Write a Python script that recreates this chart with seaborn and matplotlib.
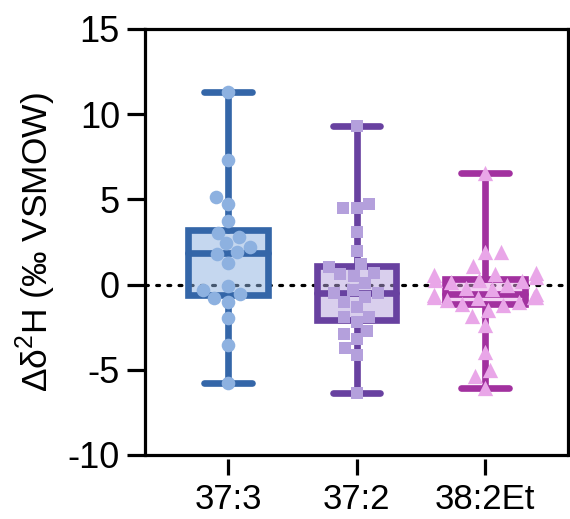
import matplotlib
matplotlib.use("Agg")
import matplotlib.pyplot as plt
import seaborn as sns
import pandas as pd
from matplotlib.colors import to_rgba

# ---- data ----
categories = ["37:3", "37:2", "38:2Et"]
vals_373 = [11.32, 7.31, 5.12, 4.71, 3.75, 3.05, 2.80, 2.42, 2.23, 1.90,
            1.80, 1.29, -0.08, -0.32, -0.57, -0.80, -1.00, -1.98, -3.54, -5.79]
vals_372 = [9.31, 4.71, 4.51, 4.48, 3.07, 1.99, 1.18, 1.02, 0.66, 0.60,
            0.52, 0.08, -0.32, -0.51, -0.51, -0.71, -1.04, -1.30, -1.92, -1.92,
            -2.21, -2.70, -2.92, -3.21, -3.70, -4.13, -6.34]
vals_382 = [6.57, 1.93, 1.93, 1.09, 0.66, 0.60, 0.55, 0.43, 0.29, 0.27,
            0.23, 0.17, -0.02, -0.22, -0.28, -0.55, -0.61, -0.70, -0.72, -0.75,
            -0.78, -0.90, -1.00, -1.12, -1.22, -1.49, -1.84, -2.37, -3.94, -5.01,
            -5.36, -6.05]
yticks = [-10, -5, 0, 5, 10, 15]
ylabel = "Δδ$^{\\mathregular{2}}$H (‰ VSMOW)"

edge_colors = ["#3466A8", "#6841A0", "#A2319F"]
point_colors = ["#8DB1E0", "#B4A0DC", "#E9A6E8"]
markers = ["o", "s", "^"]
marker_sizes = [9.8, 9.3, 11.0]

df = pd.DataFrame({
    "group": [categories[0]] * len(vals_373) + [categories[1]] * len(vals_372)
             + [categories[2]] * len(vals_382),
    "value": vals_373 + vals_372 + vals_382,
})

sns.set_style("ticks")
plt.rcParams["font.family"] = ["Liberation Sans", "DejaVu Sans"]
plt.rcParams["axes.unicode_minus"] = False
plt.rcParams["mathtext.fontset"] = "custom"
plt.rcParams["mathtext.rm"] = "Liberation Sans"
plt.rcParams["text.color"] = "black"
plt.rcParams["axes.labelcolor"] = "black"
plt.rcParams["xtick.color"] = "black"
plt.rcParams["ytick.color"] = "black"

fig = plt.figure(figsize=(5.70, 5.19), dpi=100)
ax = fig.add_axes([145 / 570, 1 - 455 / 519, (568 - 145) / 570, (455 - 29) / 519])

ax.axhline(0, color="black", lw=2.3, ls=(0, (0.9, 2.6)), dash_capstyle="round", zorder=1.5)

lw = 4.8
for g, ec, pc in zip(categories, edge_colors, point_colors):
    n_patch = len(ax.patches)
    n_line = len(ax.lines)
    sns.boxplot(data=df[df.group == g], x="group", y="value", order=categories,
                whis=(0, 100), width=0.62, color=pc, linecolor=ec, linewidth=lw,
                showfliers=False, capwidths=0.37, ax=ax)
    for p in ax.patches[n_patch:]:
        p.set_facecolor(to_rgba(pc, 0.5))
        p.set_edgecolor(ec)
        p.set_joinstyle("miter")
    for ln in ax.lines[n_line:]:
        ln.set_solid_capstyle("round")

for g, pc, m, ms in zip(categories, point_colors, markers, marker_sizes):
    sns.swarmplot(data=df[df.group == g], x="group", y="value", order=categories,
                  marker=m, color=pc, size=ms, linewidth=0, zorder=4, ax=ax,
                  warn_thresh=1)

ax.set_ylim(-10, 15)
ax.set_xlim(-0.646, 2.646)
ax.set_yticks(yticks)
ax.set_yticklabels([str(t) for t in yticks])
ax.set_xlabel("")
ax.set_ylabel(ylabel, fontsize=25.5, labelpad=7)

for s in ["top", "right", "left"]:
    ax.spines[s].set_visible(True)
    ax.spines[s].set_linewidth(2.3)
    ax.spines[s].set_color("black")
ax.spines["bottom"].set_position(("outward", 3))
ax.spines["bottom"].set_visible(False)
ax.axhline(-10, color="black", lw=2.3, clip_on=False, zorder=5)

ax.tick_params(axis="y", length=13, width=2.3, labelsize=26, pad=5, color="black")
ax.tick_params(axis="x", length=11.5, width=2.3, labelsize=25, pad=6, color="black")

fig.savefig("out.png", dpi=100)
